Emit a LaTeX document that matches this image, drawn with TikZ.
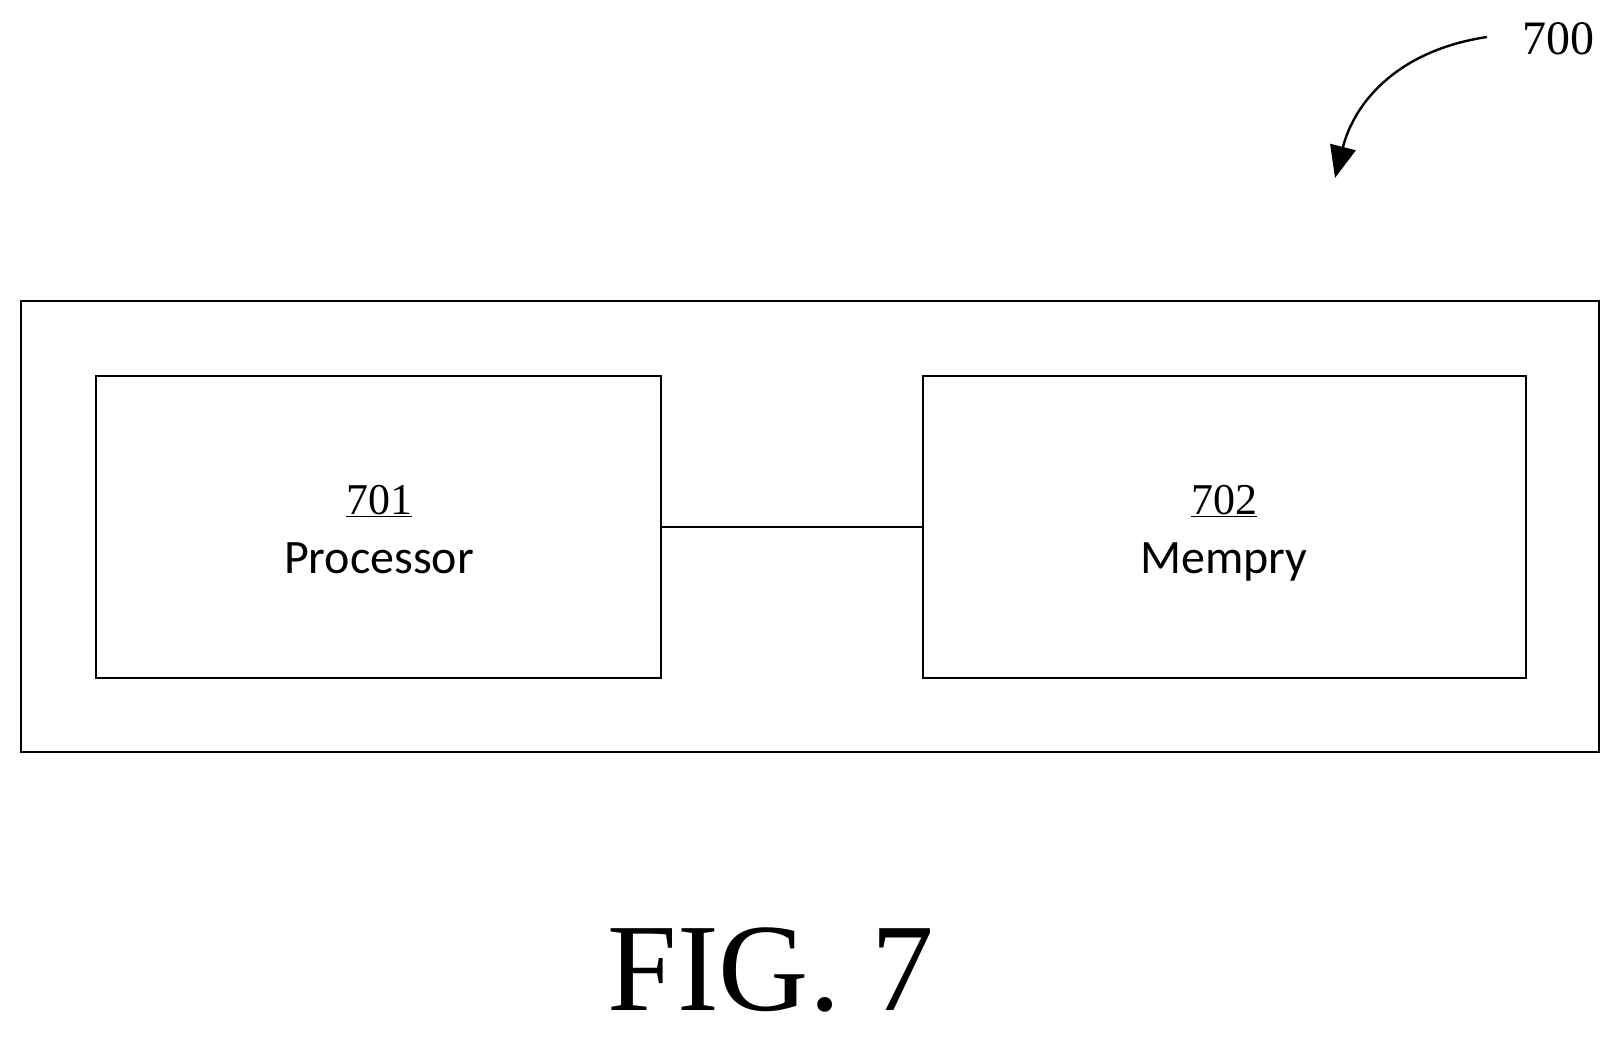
\documentclass[tikz,border=0pt]{standalone}
\usepackage{fontspec}
\setmainfont{Liberation Serif}
\newfontfamily\lab{Carlito}
\usetikzlibrary{arrows.meta}
\begin{document}
\begin{tikzpicture}[x=1pt,y=-1pt,
  box/.style={draw,line width=1.6pt,inner sep=0},
  num/.style={font=\fontsize{44}{48}\selectfont,anchor=base},
  txt/.style={font=\lab\fontsize{48}{52}\selectfont,anchor=base}]
\useasboundingbox (0,0) rectangle (1619,1036);
\node[box,minimum width=1578pt,minimum height=451pt] (outer) at (810,526.5) {};
\node[box,minimum width=565pt,minimum height=302pt] (p) at (378.5,527) {};
\node[box,minimum width=603pt,minimum height=302pt] (m) at (1224.5,527) {};
\draw[line width=1.6pt] (p.east) -- (m.west);
\node[num] (n1) at (379,514) {\underline{701}};
\node[txt] (t1) at (379,573) {Processor};
\node[num] (n2) at (1224,514) {\underline{702}};
\node[txt] (t2) at (1224,573) {Mempry};
\node[font=\fontsize{48}{56}\selectfont] (n700) at (1558,39) {700};
\coordinate (s) at (1487,37);
\coordinate (e) at (1335,178);
\draw[line width=2.4pt,-{Triangle[length=32pt,width=26pt]}] (s) .. controls (1400,50) and (1355,100) .. (e);
\node[font=\fontsize{125}{130}\selectfont,anchor=base,inner sep=0] (fig) at (771,1010) {FIG. 7};
\end{tikzpicture}
\end{document}
